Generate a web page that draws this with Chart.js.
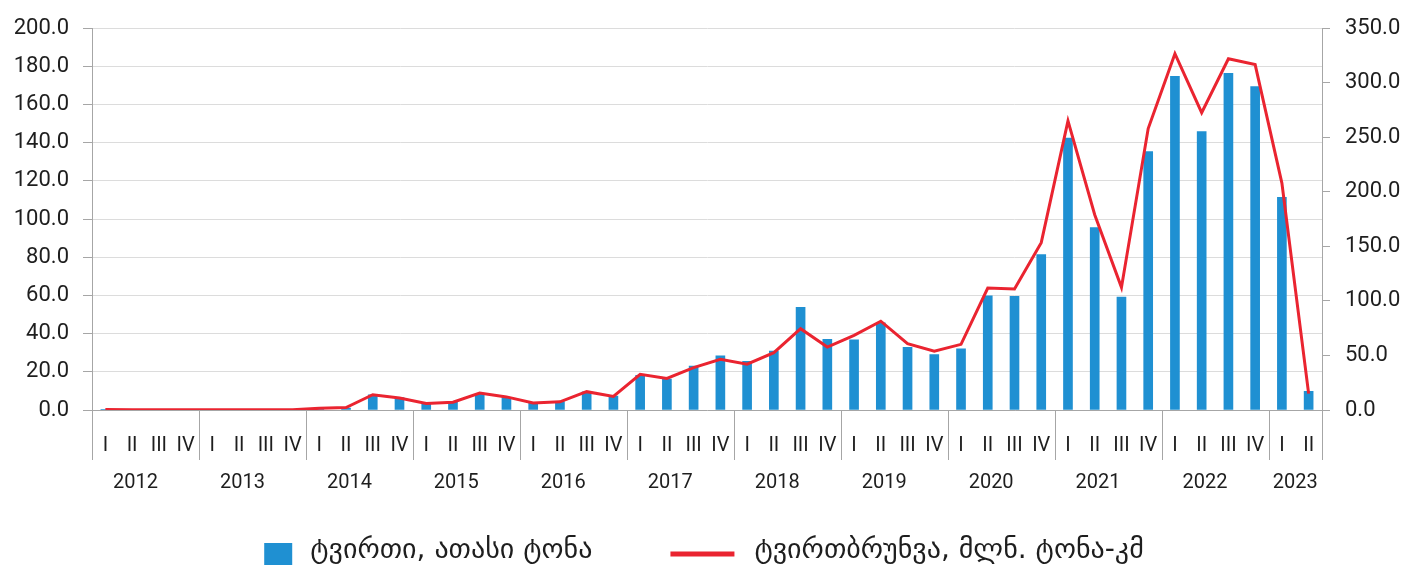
<!DOCTYPE html>
<html>
<head>
<meta charset="utf-8">
<script src="https://cdn.jsdelivr.net/npm/chart.js@4.4.1/dist/chart.umd.min.js"></script>
<style>
  html, body { margin: 0; padding: 0; background: #fff; }
  #wrap { width: 1408px; height: 566px; }
</style>
</head>
<body>
<div id="wrap"><canvas id="myChart" width="1408" height="566"></canvas></div>
<script>
// years and quarters on the category axis
const years = ['2012', '2013', '2014', '2015', '2016', '2017', '2018', '2019', '2020', '2021', '2022', '2023'];
const quarterNames = ['I', 'II', 'III', 'IV'];
const quartersInYear = [4, 4, 4, 4, 4, 4, 4, 4, 4, 4, 4, 2];

// cargo, thousand tons (left axis)
const cargo = [
  0.1, 0.1, 0.1, 0.1,
  0.1, 0.1, 0.1, 0.1,
  0.3, 1.0, 8.0, 6.5,
  3.5, 4.0, 8.5, 6.5,
  3.7, 4.4, 9.5, 7.3,
  18.2, 16.2, 23.0, 28.4,
  25.5, 30.8, 53.8, 37.0,
  36.7, 45.6, 32.8, 29.0,
  32.0, 59.8, 59.6, 81.4,
  142.5, 95.6, 59.2, 135.4,
  174.8, 145.8, 176.3, 169.4,
  111.4, 9.8
];

// cargo turnover, mln ton-km (right axis)
const turnover = [
  0.5, 0.3, 0.3, 0.3,
  0.3, 0.3, 0.3, 0.3,
  1.5, 2.3, 14.0, 11.0,
  6.0, 7.2, 15.5, 12.0,
  6.5, 7.5, 16.8, 12.5,
  32.8, 28.9, 38.9, 46.5,
  42.0, 52.6, 74.5, 57.7,
  68.4, 81.4, 60.8, 54.0,
  60.2, 111.8, 110.9, 153.4,
  265.0, 179.0, 112.4, 258.0,
  326.6, 272.5, 322.0, 316.6,
  208.0, 15.0
];

const leftTicks = [0, 20, 40, 60, 80, 100, 120, 140, 160, 180, 200];
const rightTicks = [0, 50, 100, 150, 200, 250, 300, 350];

const cargoLabel = 'ტვირთი, ათასი ტონა';
const turnoverLabel = 'ტვირთბრუნვა, მლნ. ტონა-კმ';

const blue = '#1f90d2';
const red = '#ea2430';
const axisGray = '#a6a6a6';
const gridGray = '#dcdcdc';
const textColor = '#1e1e1e';

// build the quarter labels from years
const labels = [];
quartersInYear.forEach(function (n) {
  for (let q = 0; q < n; q++) labels.push(quarterNames[q]);
});

// year row, separators and legend below the axis
const yearRowPlugin = {
  id: 'yearRow',
  afterDraw(chart) {
    const ctx = chart.ctx;
    const xs = chart.scales.x;
    const area = chart.chartArea;
    const step = xs.getPixelForValue(1) - xs.getPixelForValue(0);

    ctx.save();
    ctx.strokeStyle = axisGray;
    ctx.lineWidth = 1;
    ctx.fillStyle = textColor;
    ctx.font = '20px Roboto';
    ctx.textAlign = 'center';
    ctx.textBaseline = 'middle';

    let idx = 0;
    years.forEach(function (yr, k) {
      const n = quartersInYear[k];
      const x0 = xs.getPixelForValue(idx) - step / 2;
      const x1 = xs.getPixelForValue(idx + n - 1) + step / 2;
      ctx.beginPath();
      ctx.moveTo(Math.round(x0) + 0.5, area.bottom);
      ctx.lineTo(Math.round(x0) + 0.5, area.bottom + 50);
      ctx.stroke();
      if (k === years.length - 1) {
        ctx.beginPath();
        ctx.moveTo(Math.round(x1) + 0.5, area.bottom);
        ctx.lineTo(Math.round(x1) + 0.5, area.bottom + 50);
        ctx.stroke();
      }
      const shift = n === 4 ? -10 : 0;
      ctx.fillText(yr, (x0 + x1) / 2 + shift, area.bottom + 73);
      idx += n;
    });

    // legend
    ctx.font = '28px "DejaVu Sans"';
    ctx.textAlign = 'left';
    const w1 = ctx.measureText(cargoLabel).width;
    const w2 = ctx.measureText(turnoverLabel).width;
    const total = 28 + 18 + w1 + 78 + 64 + 20 + w2;
    let x = (chart.width - total) / 2;
    const y = 554;
    ctx.fillStyle = blue;
    ctx.fillRect(x, y - 11, 28, 22);
    x += 28 + 18;
    ctx.fillStyle = textColor;
    ctx.fillText(cargoLabel, x, y - 3);
    x += w1 + 78;
    ctx.strokeStyle = red;
    ctx.lineWidth = 5;
    ctx.beginPath();
    ctx.moveTo(x, y);
    ctx.lineTo(x + 64, y);
    ctx.stroke();
    x += 64 + 20;
    ctx.fillText(turnoverLabel, x, y - 3);
    ctx.restore();
  }
};

const config = {
  data: {
    labels: labels,
    datasets: [
      {
        type: 'line',
        label: turnoverLabel,
        data: turnover,
        yAxisID: 'y1',
        borderColor: red,
        borderWidth: 3,
        pointRadius: 0,
        tension: 0,
        order: 0
      },
      {
        type: 'bar',
        label: cargoLabel,
        data: cargo,
        yAxisID: 'y',
        backgroundColor: blue,
        barThickness: 9,
        order: 1
      }
    ]
  },
  options: {
    responsive: false,
    animation: false,
    devicePixelRatio: 1,
    layout: { padding: { top: 26, left: 0, right: 0, bottom: 0 } },
    plugins: {
      legend: { display: false },
      tooltip: { enabled: false }
    },
    scales: {
      x: {
        type: 'category',
        offset: true,
        grid: { display: false },
        border: { display: true, color: axisGray },
        ticks: {
          color: textColor,
          font: { family: 'Roboto', size: 20 },
          padding: 16,
          maxRotation: 0,
          autoSkip: false
        },
        afterFit: function (scale) { scale.height = 156; }
      },
      y: {
        position: 'left',
        min: 0,
        max: 200,
        afterBuildTicks: function (axis) {
          axis.ticks = leftTicks.map(function (v) { return { value: v }; });
        },
        grid: { color: gridGray, tickColor: axisGray, tickLength: 9, lineWidth: 1 },
        border: { display: true, color: axisGray },
        ticks: {
          color: textColor,
          font: { family: 'Roboto', size: 22 },
          padding: 14,
          callback: function (v) { return Number(v).toFixed(1); }
        },
        afterFit: function (scale) { scale.width = 92; }
      },
      y1: {
        position: 'right',
        min: 0,
        max: 350,
        afterBuildTicks: function (axis) {
          axis.ticks = rightTicks.map(function (v) { return { value: v }; });
        },
        grid: { drawOnChartArea: false, tickColor: axisGray, tickLength: 8 },
        border: { display: true, color: axisGray },
        ticks: {
          color: textColor,
          font: { family: 'Roboto', size: 22 },
          padding: 15,
          callback: function (v) { return Number(v).toFixed(1); }
        },
        afterFit: function (scale) { scale.width = 86; }
      }
    }
  },
  plugins: [yearRowPlugin]
};

window.onload = function () {
  const ctx = document.getElementById('myChart');
  new Chart(ctx, config);
};
</script>
</body>
</html>
